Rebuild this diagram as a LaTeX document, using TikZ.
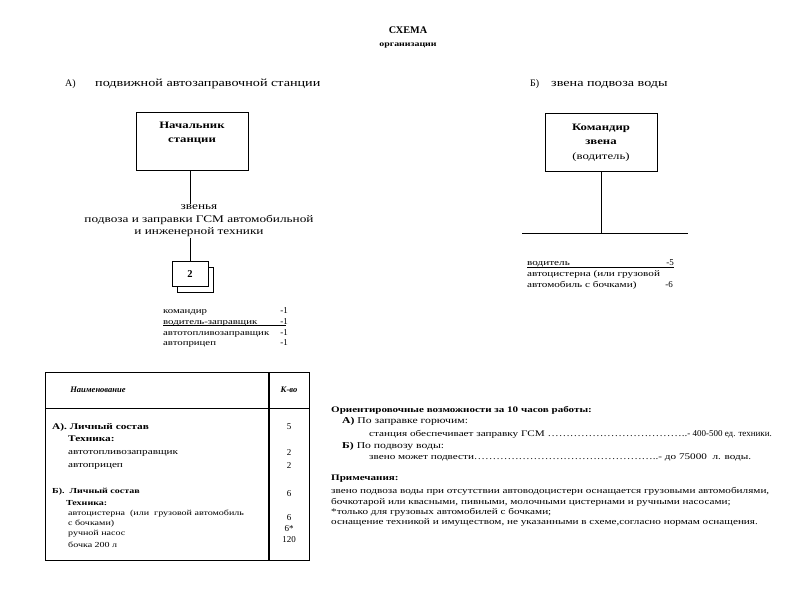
\documentclass[tikz,border=0pt]{standalone}
\usepackage{fontspec}
\setmainfont{Liberation Serif}
\newfontfamily\widefont[FakeStretch=1.3]{Liberation Serif}
\usetikzlibrary{positioning}

\begin{document}
\begin{tikzpicture}[x=1pt,y=-1pt,
  txt/.style={anchor=west,inner sep=0pt,font=\widefont\fontsize{8.6}{10}\selectfont},
  small/.style={txt,font=\widefont\fontsize{7.7}{10}\selectfont},
  num/.style={inner sep=0pt,font=\fontsize{9}{10}\selectfont},
  hd/.style={txt,font=\widefont\fontsize{8.7}{10}\selectfont\bfseries},
  chart/.style={draw,align=center,minimum width=112pt,minimum height=58pt,
    font=\widefont\fontsize{9.8}{14.5}\selectfont}]
\useasboundingbox (0,0) rectangle (800,600);

% titles
\node[font=\fontsize{10.2}{11}\selectfont\bfseries] (title) at (408,30) {СХЕМА};
\node[font=\widefont\fontsize{7.6}{10}\selectfont\bfseries] (subtitle) at (408,46) {организации};
\node[txt,anchor=base west,font=\fontsize{10}{11}\selectfont] (partA) at (65,86) {А)};
\node[txt,anchor=base west,font=\widefont\fontsize{10.9}{11}\selectfont] (partAt) at (95,86) {подвижной автозаправочной станции};
\node[txt,anchor=base west,font=\fontsize{10}{11}\selectfont] (partB) at (530,86) {Б)};
\node[txt,anchor=base west,font=\widefont\fontsize{10.9}{11}\selectfont] (partBt) at (551,86) {звена подвоза воды};

% A) station
\node[chart] (chief) at (192,141.5) {\textbf{Начальник}\\\textbf{станции}\\\strut};
\node[align=center,inner sep=1pt,font=\widefont\fontsize{10.2}{12.5}\selectfont] (links) at (199,221)
  {звенья\\подвоза и заправки ГСМ автомобильной\\и инженерной техники};
\node[draw,minimum width=36pt,minimum height=25pt] (twoback) at (195,279.5) {};
\node[draw,fill=white,minimum width=36pt,minimum height=25pt,font=\fontsize{10.5}{12}\selectfont\bfseries] (two) at (190,274) {2};
\draw (chief.south -| two) -- (two |- links.north);
\draw (two |- links.south) -- (two);

\foreach \y/\t in {313/командир,324/водитель-заправщик,335/автотопливозаправщик,345/автоприцеп}
  \node[txt,anchor=base west,font=\widefont\fontsize{8.3}{10}\selectfont] at (163,\y) {\t};
\foreach \y in {313,324,335,345}
  \node[num,anchor=base east] at (288,\y) {-1};
\draw (163,325.5) -- (286,325.5);

% B) water
\node[chart] (cmd) at (601,142.5) {\textbf{Командир}\\\textbf{звена}\\(водитель)};
\coordinate (barL) at (522,233);
\coordinate (barR) at (688,233);
\draw (barL) -- (barR);
\draw (cmd) -- (cmd |- barL);
\node[txt,anchor=base west] (drv) at (527,265) {водитель};
\node[num,anchor=base east] at (674,265) {-5};
\draw (527,267) -- (674,267);
\node[txt,anchor=base west] at (527,276) {автоцистерна (или грузовой};
\node[txt,anchor=base west] at (527,287) {автомобиль с бочками)};
\node[num,anchor=base east] at (673,287) {-6};

% table
\draw (45,372) rectangle (309,560);
\draw (45,408) -- (309,408);
\draw[line width=1.4pt] (269,372) -- (269,560);
\node[font=\fontsize{8.5}{10}\selectfont\bfseries\itshape] (name) at (98,390) {Наименование};
\node[font=\fontsize{8.5}{10}\selectfont\bfseries\itshape] (qty) at (289,390) {К-во};
\node[hd] at (52,427) {А). Личный состав};
\node[hd] at (68,439) {Техника:};
\node[txt] at (68,453) {автотопливозаправщик};
\node[txt] at (68,466) {автоприцеп};
\node[hd,font=\widefont\fontsize{7.7}{10}\selectfont\bfseries] at (52,492) {Б).\ \ Личный состав};
\node[hd,font=\widefont\fontsize{7.7}{10}\selectfont\bfseries] at (66,503) {Техника:};
\node[small] at (68,514) {автоцистерна\ \ (или\ \ грузовой автомобиль};
\node[small] at (68,524) {с бочками)};
\node[small] at (68,534) {ручной насос};
\node[small] at (68,545) {бочка 200 л};
\foreach \y/\n in {427/5,453/2,466/2,494/6,518/6,529/6*,540/120}
  \node[num] at (289,\y) {\n};

% capabilities
\node[hd,font=\widefont\fontsize{8.5}{10}\selectfont\bfseries] at (331,410) {Ориентировочные возможности за 10 часов работы:};
\node[txt,font=\widefont\fontsize{9}{10}\selectfont] at (342,421) {\textbf{А)} По заправке горючим:};
\node[txt] at (369,434) {станция обеспечивает заправку ГСМ ………………………………..{\rmfamily\fontsize{9}{10}\selectfont- 400-500 ед. техники.}};
\node[txt,font=\widefont\fontsize{9}{10}\selectfont] at (342,446) {\textbf{Б)} По подвозу воды:};
\node[txt] at (369,457) {звено может подвести…………………………………………..- до 75000\ \ л. воды.};
\node[hd,font=\widefont\fontsize{8.5}{10}\selectfont\bfseries] at (331,479) {Примечания:};
\node[txt] at (331,491) {звено подвоза воды при отсутствии автоводоцистерн оснащается грузовыми автомобилями,};
\node[txt] at (331,502) {бочкотарой или квасными, пивными, молочными цистернами и ручными насосами;};
\node[txt] at (331,512) {*только для грузовых автомобилей с бочками;};
\node[txt] at (331,522) {оснащение техникой и имуществом, не указанными в схеме,согласно нормам оснащения.};
\end{tikzpicture}
\end{document}
